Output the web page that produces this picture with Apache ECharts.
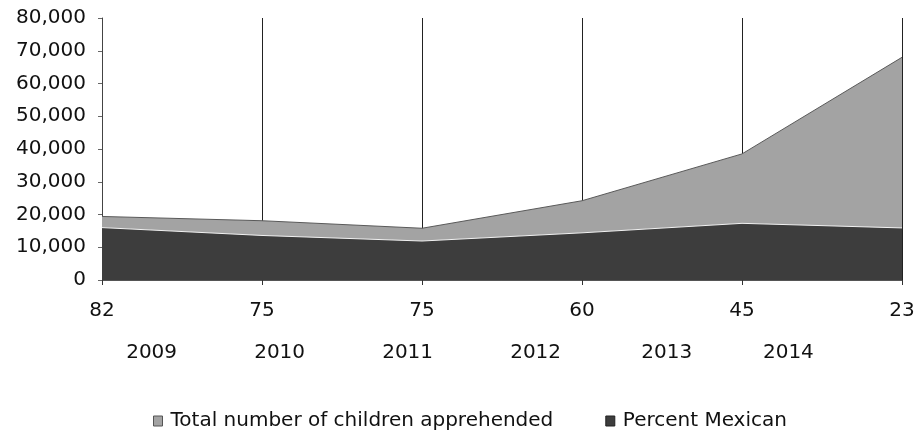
<!DOCTYPE html>
<html>
<head>
<meta charset="utf-8">
<script src="https://cdn.jsdelivr.net/npm/echarts@6/dist/echarts.min.js"></script>
<style>
  html, body { margin: 0; padding: 0; background: #ffffff; }
  #chart { width: 921px; height: 435px; }
</style>
</head>
<body>
<div id="chart"></div>
<script>
// Percent of apprehended children who were Mexican, one per fiscal year (axis labels)
const percentLabels = ['82', '75', '75', '60', '45', '23'];
// Fiscal years printed under the percentages
const yearLabels = ['2009', '2010', '2011', '2012', '2013', '2014'];
// Total number of unaccompanied children apprehended
const totalChildren = [19400, 18100, 15800, 24200, 38500, 68000];
// Number of those children who were Mexican
const mexicanChildren = [16000, 13600, 11900, 14400, 17300, 15900];
// Value-axis ticks
const yTicks = [0, 10000, 20000, 30000, 40000, 50000, 60000, 70000, 80000];

// Horizontal placement of each year label, in category steps from the first point
const yearOffsets = [0.31, 1.11, 1.91, 2.71, 3.53, 4.29];

const FONT = 'DejaVu Sans';
const FONT_SIZE = 20;
const chart = echarts.init(document.getElementById('chart'), null, { renderer: 'canvas' });

const option = {
  animation: false,
  backgroundColor: '#ffffff',
  grid: { left: 102, right: 19, top: 18, bottom: 155, containLabel: false },
  legend: {
    left: 148,
    top: 406,
    itemGap: 52,
    icon: 'rect',
    itemWidth: 9,
    itemHeight: 10,
    textStyle: { fontFamily: FONT, fontSize: FONT_SIZE, color: '#111', padding: [0, 0, 0, 3] },
    data: [
      { name: 'Total number of children apprehended', itemStyle: { color: '#a3a3a3', borderColor: '#555', borderWidth: 1 } },
      { name: 'Percent Mexican', itemStyle: { color: '#3d3d3d', borderColor: '#222', borderWidth: 1 } }
    ]
  },
  xAxis: {
    type: 'category',
    boundaryGap: false,
    data: percentLabels,
    axisLine: { show: true, lineStyle: { color: '#555', width: 1 } },
    axisTick: { show: true, inside: false, length: 5, lineStyle: { color: '#333' } },
    axisLabel: { margin: 21, fontFamily: FONT, fontSize: FONT_SIZE, color: '#111' },
    splitLine: { show: true, lineStyle: { color: '#222', width: 1 } }
  },
  yAxis: {
    type: 'value',
    min: yTicks[0],
    max: yTicks[yTicks.length - 1],
    interval: yTicks[1] - yTicks[0],
    axisLine: { show: true, lineStyle: { color: '#444', width: 1 } },
    axisTick: { show: true, length: 4, lineStyle: { color: '#666' } },
    axisLabel: {
      margin: 16,
      fontFamily: FONT,
      fontSize: FONT_SIZE,
      color: '#111',
      formatter: v => v.toLocaleString('en-US')
    },
    splitLine: { show: false }
  },
  series: [
    {
      name: 'Total number of children apprehended',
      type: 'line',
      data: totalChildren,
      symbol: 'none',
      smooth: false,
      lineStyle: { color: '#5a5a5a', width: 1 },
      itemStyle: { color: '#a3a3a3' },
      areaStyle: { color: '#a3a3a3', opacity: 1 },
      z: 2
    },
    {
      name: 'Percent Mexican',
      type: 'line',
      data: mexicanChildren,
      symbol: 'none',
      smooth: false,
      lineStyle: { color: '#f2f2f2', width: 1 },
      itemStyle: { color: '#3d3d3d' },
      areaStyle: { color: '#3d3d3d', opacity: 1 },
      z: 3
    }
  ]
};

chart.setOption(option);

// Year captions sit on a second row below the percentage labels
function placeYears() {
  const elements = yearLabels.map((yr, k) => {
    const i = Math.floor(yearOffsets[k]);
    const f = yearOffsets[k] - i;
    const x0 = chart.convertToPixel({ xAxisIndex: 0 }, i);
    const x1 = chart.convertToPixel({ xAxisIndex: 0 }, Math.min(i + 1, percentLabels.length - 1));
    const baseY = chart.convertToPixel({ yAxisIndex: 0 }, 0);
    return {
      type: 'text',
      x: x0 + f * (x1 - x0),
      y: baseY + 73,
      style: {
        text: yr,
        fontFamily: FONT,
        fontSize: FONT_SIZE,
        fill: '#111',
        align: 'center',
        verticalAlign: 'middle'
      },
      silent: true
    };
  });
  chart.setOption({ graphic: { elements } });
}
placeYears();
</script>
</body>
</html>
